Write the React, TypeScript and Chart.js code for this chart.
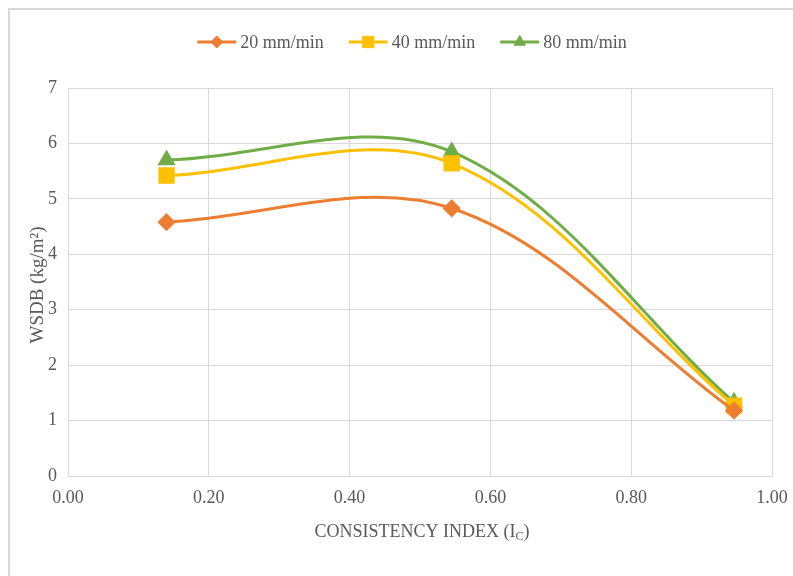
import React, { useEffect, useRef } from "react";
import { Chart, registerables } from "chart.js";
import { drawPoint } from "chart.js/helpers";

Chart.register(...registerables);

const consistencyIndex = [0.14, 0.545, 0.946];
const wsdb20 = [4.58, 4.83, 1.18];
const wsdb40 = [5.42, 5.64, 1.27];
const wsdb80 = [5.7, 5.85, 1.33];
const seriesLabels = ["20 mm/min", "40 mm/min", "80 mm/min"];
const xTitle = "CONSISTENCY INDEX (I";
const xTitleSub = "C";
const yTitle = "WSDB (kg/m²)";

const FONT = "'Liberation Serif', 'Times New Roman', serif";
const TEXT = "#595959";
const GRID = "#d9d9d9";

const customPlugin = {
  id: "customDecor",
  afterDraw(chart: any) {
    const ctx = chart.ctx as CanvasRenderingContext2D;
    const area = chart.chartArea;
    ctx.save();
    // Legend
    ctx.font = `18px ${FONT}`;
    ctx.textBaseline = "middle";
    ctx.textAlign = "left";
    const lineW = 39;
    const gap = 4;
    const itemGap = 25;
    const ds = chart.data.datasets;
    const widths = ds.map((d: any) => lineW + gap + ctx.measureText(d.label).width);
    const total = widths.reduce((a: number, b: number) => a + b, 0) + itemGap * (ds.length - 1);
    let x = 412 - total / 2;
    const y = 42;
    ds.forEach((d: any, i: number) => {
      ctx.strokeStyle = d.borderColor;
      ctx.lineWidth = 3;
      ctx.beginPath();
      ctx.moveTo(x, y);
      ctx.lineTo(x + lineW, y);
      ctx.stroke();
      ctx.fillStyle = d.pointBackgroundColor;
      ctx.strokeStyle = d.pointBorderColor;
      ctx.lineWidth = 1;
      drawPoint(ctx, { pointStyle: d.pointStyle, radius: d.legendRadius, rotation: 0, borderWidth: 1 } as any, x + lineW / 2, y);
      ctx.fillStyle = TEXT;
      ctx.fillText(d.label, x + lineW + gap, y + 1);
      x += widths[i] + itemGap;
    });
    // X title with subscript
    ctx.fillStyle = TEXT;
    ctx.font = `18px ${FONT}`;
    const mainW = ctx.measureText(xTitle).width;
    ctx.font = `12px ${FONT}`;
    const subW = ctx.measureText(xTitleSub).width;
    ctx.font = `18px ${FONT}`;
    const closeW = ctx.measureText(")").width;
    const tw = mainW + subW + closeW;
    const cx = (area.left + area.right) / 2 + 2;
    let tx = cx - tw / 2;
    const ty = 532;
    ctx.fillText(xTitle, tx, ty);
    tx += mainW;
    ctx.font = `12px ${FONT}`;
    ctx.fillText(xTitleSub, tx, ty + 5);
    tx += subW;
    ctx.font = `18px ${FONT}`;
    ctx.fillText(")", tx, ty);
    // Y title
    ctx.font = `19px ${FONT}`;
    ctx.translate(38, (area.top + area.bottom) / 2 + 3);
    ctx.rotate(-Math.PI / 2);
    ctx.textAlign = "center";
    ctx.fillText(yTitle, 0, 0);
    ctx.restore();
  },
};

function App() {
  const ref = useRef<HTMLCanvasElement | null>(null);
  useEffect(() => {
    if (!ref.current) return;
    const mk = (vals: number[]) => vals.map((v, i) => ({ x: consistencyIndex[i], y: v }));
    const chart = new Chart(ref.current, {
      type: "line",
      data: {
        datasets: [
          {
            label: seriesLabels[0],
            data: mk(wsdb20),
            borderColor: "#ED7D31",
            backgroundColor: "#ED7D31",
            pointBackgroundColor: "#ED7D31",
            pointBorderColor: "#ED7D31",
            pointStyle: "rectRot",
            pointRadius: 7,
            legendRadius: 6,
            borderWidth: 3,
            tension: 0.35,
          } as any,
          {
            label: seriesLabels[1],
            data: mk(wsdb40),
            borderColor: "#FFC000",
            backgroundColor: "#FFC000",
            pointBackgroundColor: "#FFC000",
            pointBorderColor: "#FFC000",
            pointStyle: "rect",
            pointRadius: 9.5,
            legendRadius: 8,
            borderWidth: 3,
            tension: 0.35,
          } as any,
          {
            label: seriesLabels[2],
            data: mk(wsdb80),
            borderColor: "#70AD47",
            backgroundColor: "#70AD47",
            pointBackgroundColor: "#70AD47",
            pointBorderColor: "#70AD47",
            pointStyle: "triangle",
            pointRadius: 7.5,
            legendRadius: 6.5,
            borderWidth: 3,
            tension: 0.35,
          } as any,
        ],
      },
      options: {
        responsive: false,
        animation: false,
        devicePixelRatio: 1,
        layout: { padding: { left: 0, right: 21, top: 88, bottom: 0 } },
        plugins: { legend: { display: false }, tooltip: { enabled: false } },
        scales: {
          x: {
            type: "linear",
            min: 0,
            max: 1,
            ticks: {
              stepSize: 0.2,
              color: TEXT,
              font: { family: FONT, size: 18 },
              padding: 11,
              callback: (v: any) => Number(v).toFixed(2),
            },
            grid: { color: GRID, lineWidth: 1, drawTicks: false },
            border: { color: GRID },
            afterFit: (s: any) => {
              s.height = 100;
              s.paddingLeft = 0;
              s.paddingRight = 0;
            },
          },
          y: {
            min: 0,
            max: 7,
            ticks: {
              stepSize: 1,
              color: TEXT,
              font: { family: FONT, size: 18 },
              padding: 11,
            },
            grid: { color: GRID, lineWidth: 1, drawTicks: false },
            border: { color: GRID },
            afterFit: (s: any) => {
              s.width = 68;
            },
          },
        },
      },
      plugins: [customPlugin],
    });
    return () => chart.destroy();
  }, []);
  return (
    <div style={{ position: "fixed", left: 0, top: 0, width: 793, height: 576, background: "#fff", overflow: "hidden" }}>
      <div
        style={{
          position: "absolute",
          left: 8,
          top: 8,
          width: 820,
          height: 620,
          borderLeft: "2px solid #d9d9d9",
          borderTop: "2px solid #d9d9d9",
        }}
      />
      <canvas ref={ref} width={793} height={576} style={{ position: "absolute", left: 0, top: 0 }} />
    </div>
  );
}

export default App;
